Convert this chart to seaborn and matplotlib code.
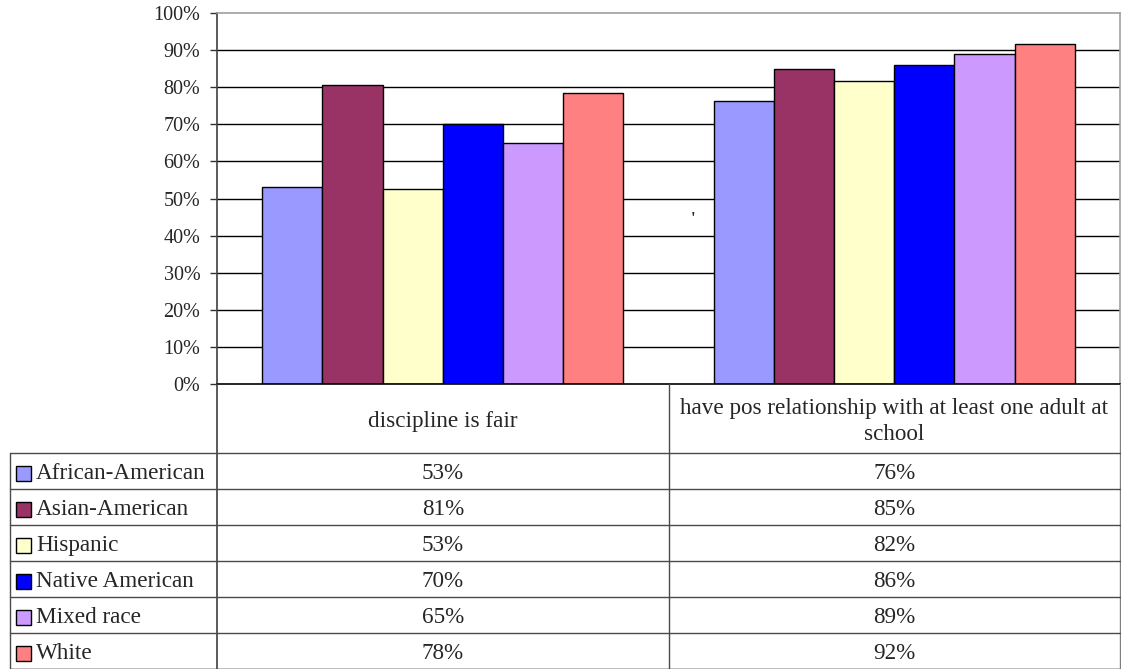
import matplotlib
matplotlib.use("Agg")
import matplotlib.pyplot as plt
import seaborn as sns
import pandas as pd
from matplotlib.patches import Rectangle
from matplotlib.ticker import PercentFormatter

categories = ["discipline is fair", "have pos relationship with at least one adult at\nschool"]
groups = ["African-American", "Asian-American", "Hispanic", "Native American", "Mixed race", "White"]
discipline_fair = [53.2, 80.6, 52.6, 70.1, 65.0, 78.4]
pos_relationship = [76.3, 84.9, 81.6, 85.9, 89.0, 91.6]
table_discipline = ["53%", "81%", "53%", "70%", "65%", "78%"]
table_relationship = ["76%", "85%", "82%", "86%", "89%", "92%"]
colors = ["#9999FF", "#993366", "#FFFFCC", "#0000FF", "#CC99FF", "#FF8080"]

rows = []
for g, a, b in zip(groups, discipline_fair, pos_relationship):
    rows.append({"cat": categories[0], "group": g, "value": a})
    rows.append({"cat": categories[1], "group": g, "value": b})
df = pd.DataFrame(rows)

sns.set_style("white")
plt.rcParams["font.family"] = ["Liberation Serif", "DejaVu Serif"]

W, H = 1121, 669
fig = plt.figure(figsize=(W / 100, H / 100), dpi=100)

# plot area
x0, x1, ytop, ybot = 217, 1120, 13, 384
ax = fig.add_axes([x0 / W, 1 - ybot / H, (x1 - x0) / W, (ybot - ytop) / H])
sns.barplot(data=df, x="cat", y="value", hue="group", hue_order=groups,
            palette=colors, order=categories, width=0.8, saturation=1,
            edgecolor="black", linewidth=1.0, ax=ax, legend=False)
ax.set_ylim(0, 100)
ax.set_xlim(-0.5, 1.5)
ax.set_yticks(range(0, 101, 10))
ax.yaxis.set_major_formatter(PercentFormatter(decimals=0))
ax.set_xlabel("")
ax.set_ylabel("")
ax.set_xticks([])
for y in range(10, 100, 10):
    ax.axhline(y, color="black", linewidth=1.0, zorder=0)
ax.set_axisbelow(True)
ax.tick_params(axis="y", direction="out", length=5, width=1, color="#333333",
               labelsize=14.5, pad=7, left=True)
for s in ["top", "right"]:
    ax.spines[s].set_color("#A0A0A0")
    ax.spines[s].set_linewidth(1.2)
ax.spines["left"].set_color("#404040")
ax.spines["left"].set_linewidth(1.2)
ax.spines["bottom"].set_color("black")
ax.spines["bottom"].set_linewidth(1.2)
ax.text(0.554, 44.5, "'", fontsize=12, fontweight="bold", ha="center", va="center")

# data table
tax = fig.add_axes([0, 0, 1, 1])
tax.set_xlim(0, W)
tax.set_ylim(H, 0)
tax.axis("off")
lc = "#4A4A4A"
header_bottom = 453
row_h = 36
tax.plot([x0, x0], [ybot, H], color="#404040", lw=1.2)
tax.plot([669, 669], [ybot, H], color=lc, lw=1.0)
tax.plot([x1, x1], [ybot, H], color="#808080", lw=1.0)
tax.plot([10, 10], [header_bottom, H], color=lc, lw=1.0)
for i in range(7):
    yy = header_bottom + i * row_h
    tax.plot([10, x1], [yy, yy], color=lc, lw=1.0)
tax.plot([10, x1], [H - 0.5, H - 0.5], color=lc, lw=1.0)

fs = 16.7
tax.text((x0 + 669) / 2, (ybot + header_bottom) / 2 + 3, categories[0],
         ha="center", va="center", fontsize=fs)
tax.text((669 + x1) / 2, (ybot + header_bottom) / 2 + 3, categories[1],
         ha="center", va="center", fontsize=fs, linespacing=1.35)
for i, (g, c, a, b) in enumerate(zip(groups, colors, table_discipline, table_relationship)):
    yc = header_bottom + i * row_h + row_h / 2
    tax.add_patch(Rectangle((15.5, yc - 5.5), 15, 15, facecolor=c, edgecolor="black", lw=1.0))
    tax.text(36, yc + 2.5, g, ha="left", va="center", fontsize=fs)
    tax.text((x0 + 669) / 2, yc + 2.5, a, ha="center", va="center", fontsize=fs)
    tax.text((669 + x1) / 2, yc + 2.5, b, ha="center", va="center", fontsize=fs)

fig.savefig("out.png", dpi=100)
